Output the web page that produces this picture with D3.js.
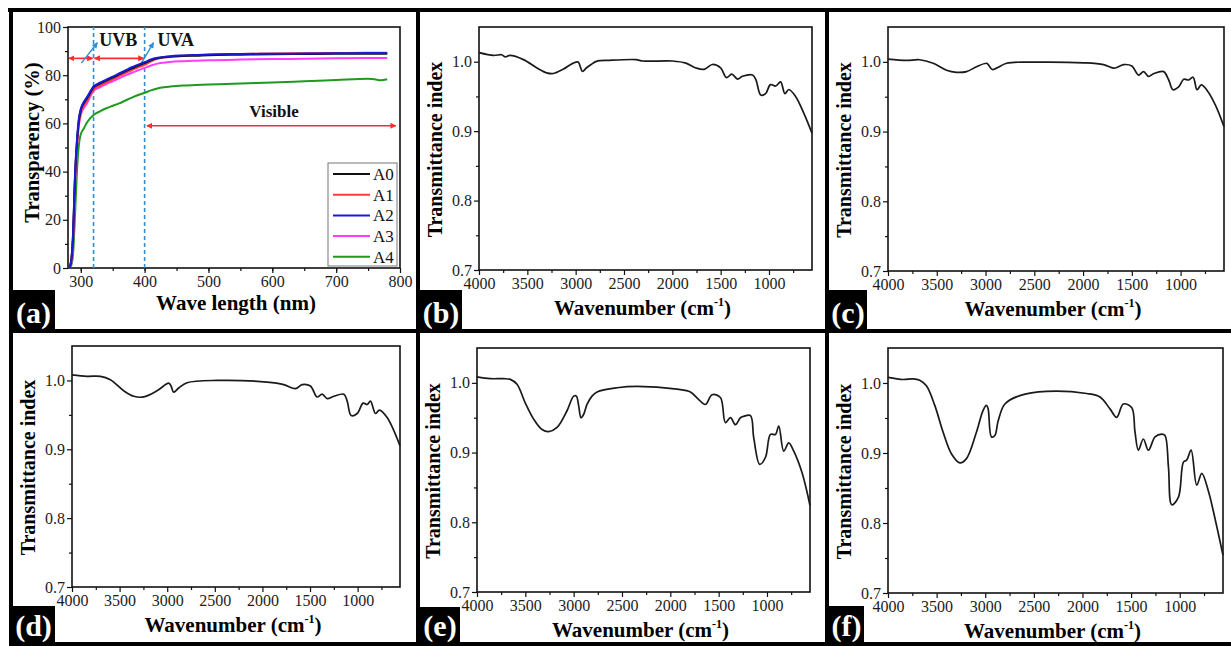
<!DOCTYPE html>
<html>
  <head>
    <meta charset="utf-8">
    <style>
      body { margin: 0; background: #fff; }
      svg text { font-family: "Liberation Serif", "Times New Roman", serif; }
      .tick text { fill: #1c1c1c; }
      .tick line { stroke: #111; stroke-width: 1.2; }
    </style>
  </head>
  <body>
    <script src="https://d3js.org/d3.v7.min.js"></script>
    <script type="text/javascript">

      // ---- panel (a): UV-vis transparency ----
      var aWavelength = [282, 285, 288, 291, 294, 297, 300, 305, 310, 320, 330, 340, 350, 360, 370, 380, 390, 400,
                         410, 420, 430, 440, 460, 480, 500, 550, 600, 650, 700, 750, 760, 770, 780];
      var aA0 = [0, 3, 14, 38, 52, 61, 65.5, 68.5, 70.5, 75, 76.5, 77.8, 79, 80.3, 81.6, 82.8, 84, 85,
                 86.2, 87, 87.4, 87.7, 88, 88.1, 88.3, 88.5, 88.7, 88.8, 88.9, 88.9, 88.9, 88.9, 88.9];
      var aA1 = [0, 3, 13, 37, 51, 60, 64.5, 67.5, 69.5, 74, 75.7, 77, 78.3, 79.6, 80.9, 82.1, 83.3, 84.3,
                 85.8, 86.8, 87.3, 87.7, 88.1, 88.3, 88.5, 88.8, 89, 89.1, 89.2, 89.3, 89.3, 89.3, 89.3];
      var aA2 = [0, 3, 15, 39, 53, 62, 66, 69, 71, 75.3, 76.9, 78.2, 79.4, 80.7, 82, 83.3, 84.4, 85.4,
                 86.5, 87.2, 87.6, 87.9, 88.2, 88.4, 88.6, 88.8, 88.9, 89, 89.1, 89.2, 89.2, 89.2, 89.2];
      var aA3 = [0, 2, 12, 35, 50, 59, 63.5, 66.5, 68.5, 73.5, 75, 76.3, 77.5, 78.7, 79.9, 81, 82, 83,
                 84, 84.8, 85.2, 85.5, 85.8, 86, 86.2, 86.5, 86.7, 86.8, 87, 87.1, 87.1, 87.1, 87.1];
      var aA4 = [0, 1, 6, 22, 40, 51, 55.5, 58, 60.5, 63.5, 65, 66.3, 67.3, 68.3, 69.5, 70.7, 71.8, 72.7,
                 73.7, 74.5, 75, 75.3, 75.7, 75.9, 76.1, 76.6, 77, 77.5, 78, 78.5, 78.3, 77.9, 78.3];
      var aNames = ["A0", "A1", "A2", "A3", "A4"];
      var aXTicks = [300, 400, 500, 600, 700, 800];
      var aYTicks = [0, 20, 40, 60, 80, 100];

      // ---- panels (b)-(f): FTIR spectra ----
      var bWn = [4000, 3850, 3765, 3730, 3680, 3540, 3400, 3300, 3230, 3130, 3025, 2975, 2930, 2890, 2840, 2785,
                 2650, 2375, 2305, 2000, 1860, 1755, 1670, 1585, 1500, 1440, 1385, 1325, 1275, 1170, 1135, 1085,
                 1035, 985, 930, 880, 835, 795, 725, 640, 555];
      var bT = [1.013, 1.009, 1.010, 1.007, 1.009, 1.003, 0.991, 0.984, 0.983, 0.989, 0.998, 0.9995, 0.986, 0.991,
                0.996, 1.0005, 1.002, 1.003, 1.001, 1.001, 0.998, 0.991, 0.989, 0.996, 0.991, 0.977, 0.982, 0.975,
                0.979, 0.981, 0.974, 0.952, 0.954, 0.967, 0.965, 0.971, 0.954, 0.960, 0.950, 0.926, 0.897];

      var cWn = [4000, 3812, 3675, 3537, 3400, 3298, 3195, 3092, 2990, 2972, 2931, 2887, 2784, 2510, 1996, 1790,
                 1688, 1636, 1585, 1500, 1431, 1380, 1328, 1277, 1174, 1122, 1078, 1020, 968, 917, 872, 831, 787,
                 728, 643, 555];
      var cT = [1.004, 1.002, 1.003, 0.998, 0.988, 0.985, 0.986, 0.993, 0.998, 0.996, 0.989, 0.991, 0.998, 0.9995,
                0.9986, 0.996, 0.991, 0.993, 0.996, 0.994, 0.981, 0.986, 0.979, 0.983, 0.986, 0.974, 0.960, 0.964,
                0.975, 0.974, 0.978, 0.960, 0.967, 0.959, 0.938, 0.907];

      var dWn = [4000, 3842, 3702, 3597, 3457, 3352, 3247, 3107, 2984, 2960, 2932, 2879, 2792, 2476, 1951, 1776,
                 1653, 1583, 1496, 1426, 1373, 1320, 1250, 1145, 1110, 1068, 1005, 942, 900, 865, 813, 771, 690, 555];
      var dT = [1.008, 1.006, 1.006, 1.001, 0.985, 0.977, 0.976, 0.985, 0.996, 0.992, 0.983, 0.989, 0.9966, 1.0,
                0.9976, 0.994, 0.988, 0.994, 0.992, 0.976, 0.980, 0.9735, 0.977, 0.980, 0.970, 0.949, 0.952, 0.967,
                0.965, 0.970, 0.952, 0.957, 0.946, 0.905];

      var eWn = [4000, 3862, 3724, 3655, 3586, 3500, 3414, 3327, 3258, 3172, 3069, 3000, 2972, 2948, 2924, 2896,
                 2862, 2810, 2758, 2551, 2344, 1930, 1792, 1706, 1637, 1568, 1482, 1430, 1378, 1326, 1275, 1240,
                 1171, 1137, 1075, 1016, 964, 913, 878, 827, 775, 723, 637, 555];
      var eT = [1.0086, 1.006, 1.006, 1.005, 0.998, 0.971, 0.948, 0.933, 0.930, 0.936, 0.960, 0.981, 0.981, 0.967,
                0.950, 0.955, 0.969, 0.981, 0.987, 0.993, 0.995, 0.991, 0.987, 0.976, 0.969, 0.983, 0.979, 0.943,
                0.950, 0.940, 0.950, 0.952, 0.953, 0.921, 0.883, 0.893, 0.926, 0.926, 0.938, 0.902, 0.914, 0.902,
                0.871, 0.824];

      var fWn = [4000, 3846, 3743, 3674, 3605, 3519, 3434, 3348, 3262, 3193, 3090, 3022, 2987, 2970, 2936, 2901,
                 2867, 2798, 2644, 2369, 1957, 1820, 1717, 1648, 1580, 1494, 1460, 1425, 1374, 1322, 1254, 1185,
                 1151, 1116, 1082, 1013, 962, 928, 883, 825, 773, 704, 653, 555];
      var fT = [1.008, 1.005, 1.006, 1.004, 0.996, 0.968, 0.930, 0.899, 0.886, 0.892, 0.930, 0.961, 0.968, 0.963,
                0.923, 0.925, 0.946, 0.970, 0.982, 0.988, 0.985, 0.980, 0.963, 0.951, 0.970, 0.965, 0.930, 0.904,
                0.920, 0.904, 0.923, 0.927, 0.925, 0.880, 0.826, 0.837, 0.887, 0.890, 0.904, 0.854, 0.871, 0.845,
                0.816, 0.754];

      var ftirXTicks = [4000, 3500, 3000, 2500, 2000, 1500, 1000];
      var ftirYTicks = [0.7, 0.8, 0.9, 1.0];

      // ---- styles ----
      var aColors = { A0: "#111111", A1: "#ff3b3b", A2: "#1a1ad6", A3: "#ff3cff", A4: "#1f9a1f" };
      var uvBlue = "#2f8fd3";
      var arrowRed = "#ff2a2a";
      var serif = "'Liberation Serif', 'Times New Roman', serif";

      var W = 1231, H = 646;
      var svg = d3.select("body").append("svg")
        .attr("width", W)
        .attr("height", H)
        .attr("font-family", serif);

      var defs = svg.append("defs");
      function marker(id, color, orient) {
        defs.append("marker")
          .attr("id", id)
          .attr("viewBox", "0 0 10 10")
          .attr("refX", 9).attr("refY", 5)
          .attr("markerWidth", 6).attr("markerHeight", 6)
          .attr("markerUnits", "userSpaceOnUse")
          .attr("orient", orient)
          .append("path")
          .attr("d", "M0,0 L10,5 L0,10 z")
          .attr("fill", color);
      }
      marker("redEnd", arrowRed, "auto");
      marker("redStart", arrowRed, "auto-start-reverse");
      marker("blueEnd", uvBlue, "auto");

      // frame of the whole figure
      var frame = svg.append("g");
      frame.append("rect").attr("x", 8).attr("y", 8).attr("width", W - 8).attr("height", 4);
      frame.append("rect").attr("x", 9).attr("y", 8).attr("width", 4).attr("height", H - 8);
      frame.append("rect").attr("x", 9).attr("y", 642).attr("width", W - 9).attr("height", 4);
      frame.append("rect").attr("x", 9).attr("y", 329).attr("width", W - 9).attr("height", 4);
      frame.append("rect").attr("x", 416).attr("y", 8).attr("width", 4).attr("height", H - 8);
      frame.append("rect").attr("x", 825).attr("y", 8).attr("width", 4).attr("height", H - 8);
      frame.selectAll("rect").attr("fill", "#000");

      // panel boxes: plot area and label box
      var panels = {
        a: { x0: 68, x1: 400, y0: 27, y1: 268, lab: [12, 290, 43, 39] },
        b: { x0: 479, x1: 812, y0: 27, y1: 270, lab: [420, 290, 42, 39] },
        c: { x0: 888, x1: 1224, y0: 27, y1: 271, lab: [829, 290, 38, 39] },
        d: { x0: 72, x1: 400, y0: 346, y1: 587, lab: [12, 606, 43, 36] },
        e: { x0: 477, x1: 810, y0: 348, y1: 592, lab: [420, 607, 40, 35] },
        f: { x0: 888, x1: 1223, y0: 348, y1: 593, lab: [829, 606, 35, 36] }
      };

      function styleAxis(s) {
        s.attr("font-family", serif).attr("font-size", 16);
        s.select(".domain").remove();
      }

      function drawAxes(p, x, y, xTicks, yTicks, xMinor, yMinor, xFmt, yFmt) {
        var g = svg.append("g");
        g.append("g")
          .attr("transform", "translate(0," + p.y1 + ")")
          .call(d3.axisBottom(x).tickValues(xMinor).tickSize(3).tickFormat(""))
          .call(styleAxis);
        g.append("g")
          .attr("transform", "translate(" + p.x0 + ",0)")
          .call(d3.axisLeft(y).tickValues(yMinor).tickSize(3).tickFormat(""))
          .call(styleAxis);
        g.append("g")
          .attr("transform", "translate(0," + p.y1 + ")")
          .call(d3.axisBottom(x).tickValues(xTicks).tickSize(5).tickPadding(3).tickFormat(xFmt))
          .call(styleAxis);
        g.append("g")
          .attr("transform", "translate(" + p.x0 + ",0)")
          .call(d3.axisLeft(y).tickValues(yTicks).tickSize(5).tickPadding(2).tickFormat(yFmt))
          .call(styleAxis);
        g.append("rect")
          .attr("x", p.x0).attr("y", p.y0)
          .attr("width", p.x1 - p.x0).attr("height", p.y1 - p.y0)
          .attr("fill", "none").attr("stroke", "#111").attr("stroke-width", 1.6);
        return g;
      }

      function panelLabel(key) {
        var b = panels[key].lab;
        svg.append("rect")
          .attr("x", b[0]).attr("y", b[1]).attr("width", b[2]).attr("height", b[3])
          .attr("fill", "#000");
        svg.append("text")
          .attr("x", b[0] + b[2] / 2)
          .attr("y", b[1] + b[3] - 6)
          .attr("text-anchor", "middle")
          .attr("font-size", 30)
          .attr("font-weight", "bold")
          .attr("fill", "#fff")
          .text("(" + key + ")");
      }

      // ---- panel (a) ----
      var pa = panels.a;
      var xa = d3.scaleLinear().domain([280, 800]).range([pa.x0, pa.x1]);
      var ya = d3.scaleLinear().domain([0, 100]).range([pa.y1, pa.y0]);
      drawAxes(pa, xa, ya, aXTicks, aYTicks,
               d3.range(300, 800, 50), d3.range(10, 100, 20), d3.format("d"), d3.format("d"));

      // UVB / UVA boundaries
      [320, 400].forEach(function(v) {
        svg.append("line")
          .attr("x1", xa(v)).attr("x2", xa(v))
          .attr("y1", ya(0)).attr("y2", ya(100))
          .attr("stroke", uvBlue).attr("stroke-width", 1.6)
          .attr("stroke-dasharray", "4,3");
      });

      // double-headed red range arrows
      function redArrow(a, b, v) {
        svg.append("line")
          .attr("x1", xa(a) + 1).attr("x2", xa(b) - 1)
          .attr("y1", ya(v)).attr("y2", ya(v))
          .attr("stroke", arrowRed).attr("stroke-width", 1.6)
          .attr("marker-start", "url(#redStart)")
          .attr("marker-end", "url(#redEnd)");
      }
      redArrow(280, 320, 87);
      redArrow(320, 400, 87);
      redArrow(402, 795, 59);

      // small blue pointers to UVB / UVA
      function bluePointer(a, v1, b, v2) {
        svg.append("line")
          .attr("x1", xa(a)).attr("y1", ya(v1))
          .attr("x2", xa(b)).attr("y2", ya(v2))
          .attr("stroke", uvBlue).attr("stroke-width", 1.4)
          .attr("marker-end", "url(#blueEnd)");
      }
      bluePointer(301, 85, 326, 93.5);
      bluePointer(393, 84.2, 414, 93.5);

      function note(t, x, y, size) {
        svg.append("text")
          .attr("x", x).attr("y", y)
          .attr("font-size", size).attr("font-weight", "bold")
          .attr("fill", "#111")
          .text(t);
      }
      note("UVB", xa(329), ya(92.3), 18);
      note("UVA", xa(420), ya(92.3), 18);
      note("Visible", xa(564), ya(62.8), 17);

      var aLine = d3.line()
        .x(function(d) { return xa(d[0]); })
        .y(function(d) { return ya(d[1]); })
        .curve(d3.curveMonotoneX);

      var aData = { A0: aA0, A1: aA1, A2: aA2, A3: aA3, A4: aA4 };
      // draw A3, A4 first, then the near-identical A1, A0, A2 on top
      ["A4", "A3", "A1", "A0", "A2"].forEach(function(n) {
        svg.append("path")
          .datum(d3.zip(aWavelength, aData[n]))
          .attr("d", aLine)
          .attr("fill", "none")
          .attr("stroke", aColors[n])
          .attr("stroke-width", 2);
      });

      // legend
      var lg = svg.append("g");
      lg.append("rect")
        .attr("x", 328).attr("y", 163).attr("width", 69).attr("height", 103)
        .attr("fill", "#fff").attr("stroke", "#777").attr("stroke-width", 1);
      aNames.forEach(function(n, i) {
        var yy = 174 + i * 20.7;
        lg.append("line")
          .attr("x1", 333).attr("x2", 370).attr("y1", yy).attr("y2", yy)
          .attr("stroke", aColors[n]).attr("stroke-width", 2);
        lg.append("text")
          .attr("x", 373).attr("y", yy + 6)
          .attr("font-size", 17).attr("fill", "#111")
          .text(n);
      });

      // axis titles for (a)
      svg.append("text")
        .attr("x", (pa.x0 + pa.x1) / 2 + 2).attr("y", pa.y1 + 42)
        .attr("text-anchor", "middle")
        .attr("font-size", 21).attr("font-weight", "bold")
        .text("Wave length (nm)");
      svg.append("text")
        .attr("transform", "translate(" + (pa.x0 - 29) + "," + ((pa.y0 + pa.y1) / 2 - 5) + ") rotate(-90)")
        .attr("text-anchor", "middle")
        .attr("font-size", 20.5).attr("font-weight", "bold")
        .text("Transparency (%)");
      panelLabel("a");

      // ---- FTIR panels ----
      var ftir = [
        { key: "b", wn: bWn, t: bT },
        { key: "c", wn: cWn, t: cT },
        { key: "d", wn: dWn, t: dT },
        { key: "e", wn: eWn, t: eT },
        { key: "f", wn: fWn, t: fT }
      ];

      ftir.forEach(function(s) {
        var p = panels[s.key];
        var x = d3.scaleLinear().domain([4000, 555]).range([p.x0, p.x1]);
        var y = d3.scaleLinear().domain([0.7, 1.05]).range([p.y1, p.y0]);
        drawAxes(p, x, y, ftirXTicks, ftirYTicks,
                 d3.range(3750, 600, -500), [0.75, 0.85, 0.95], d3.format("d"), d3.format(".1f"));

        var line = d3.line()
          .x(function(d) { return x(d[0]); })
          .y(function(d) { return y(d[1]); })
          .curve(d3.curveCatmullRom.alpha(0.5));

        svg.append("path")
          .datum(d3.zip(s.wn, s.t))
          .attr("d", line)
          .attr("fill", "none")
          .attr("stroke", "#1a1a1a")
          .attr("stroke-width", 1.7);

        var xt = svg.append("text")
          .attr("x", (p.x0 + p.x1) / 2 - 3).attr("y", p.y1 + 45)
          .attr("text-anchor", "middle")
          .attr("font-size", 21).attr("font-weight", "bold");
        xt.append("tspan").text("Wavenumber (cm");
        xt.append("tspan").attr("font-size", 12).attr("dy", -9).text("-1");
        xt.append("tspan").attr("dy", 9).text(")");

        svg.append("text")
          .attr("transform", "translate(" + (p.x0 - 37) + "," + ((p.y0 + p.y1) / 2 + 1) + ") rotate(-90)")
          .attr("text-anchor", "middle")
          .attr("font-size", 20).attr("font-weight", "bold")
          .text("Transmittance index");

        panelLabel(s.key);
      });

    </script>
  </body>
</html>
